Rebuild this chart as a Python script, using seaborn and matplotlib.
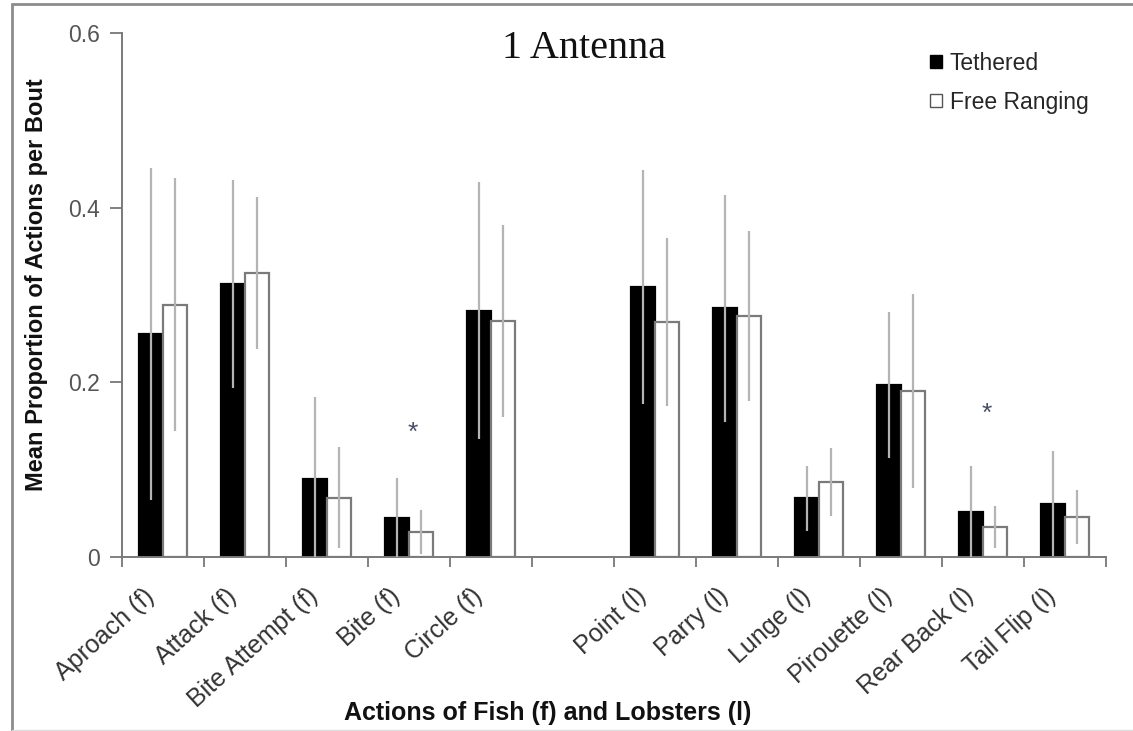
import matplotlib
matplotlib.use("Agg")
import matplotlib.pyplot as plt
import matplotlib.transforms as mtransforms
from matplotlib.lines import Line2D
from matplotlib.patches import Patch
import numpy as np
import pandas as pd
import seaborn as sns

# Behaviour categories (f = fish, l = lobster); the blank entry separates the two groups
actions = ["Aproach (f)", "Attack (f)", "Bite Attempt (f)", "Bite (f)", "Circle (f)", " ",
           "Point (l)", "Parry (l)", "Lunge (l)", "Pirouette (l)", "Rear Back (l)", "Tail Flip (l)"]
measured = [a for a in actions if a.strip()]

tethered_mean = [0.255, 0.313, 0.089, 0.045, 0.282, 0.309, 0.285, 0.067, 0.197, 0.052, 0.061]
tethered_err = [0.190, 0.119, 0.094, 0.045, 0.147, 0.134, 0.130, 0.037, 0.084, 0.052, 0.060]
free_mean = [0.289, 0.325, 0.068, 0.029, 0.270, 0.269, 0.276, 0.086, 0.190, 0.034, 0.046]
free_err = [0.145, 0.087, 0.058, 0.025, 0.110, 0.096, 0.097, 0.039, 0.111, 0.024, 0.031]

# Significant differences marked with an asterisk
significant = ["Bite (f)", "Rear Back (l)"]
significant_y = [0.142, 0.164]

conditions = ["Tethered", "Free Ranging"]

df = pd.DataFrame({
    "action": measured * 2,
    "condition": ["Tethered"] * len(measured) + ["Free Ranging"] * len(measured),
    "mean": tethered_mean + free_mean,
    "err": tethered_err + free_err,
})

sns.set_theme(style="white")
plt.rcParams["font.family"] = ["Liberation Sans", "DejaVu Sans"]

fig = plt.figure(figsize=(11.33, 7.31), dpi=100)
ax = fig.add_axes([0.1077, 0.238, 0.8683, 0.717])

sns.barplot(data=df, x="action", y="mean", hue="condition", order=actions,
            hue_order=conditions, palette={"Tethered": "black", "Free Ranging": "white"},
            width=0.58, errorbar=None, legend=False, saturation=1, ax=ax)

edge = {"Tethered": "black", "Free Ranging": "#7a7a7a"}
err_lookup = {(a, c): e for a, c, e in zip(df["action"], df["condition"], df["err"])}
for cond, container in zip(conditions, ax.containers):
    xs, ys, es = [], [], []
    for rect in container:
        rect.set_edgecolor(edge[cond])
        rect.set_linewidth(1.6)
        xc = rect.get_x() + rect.get_width() / 2
        xs.append(xc)
        ys.append(rect.get_height())
        es.append(err_lookup[(actions[int(round(xc))], cond)])
    ax.errorbar(xs, ys, yerr=es, fmt="none", ecolor="#b4b4b4", elinewidth=1.6,
                capsize=0, zorder=5)

for name, y in zip(significant, significant_y):
    ax.text(actions.index(name) + 0.05, y, "*", ha="center", va="center",
            fontsize=19, color="#4a4f66")

ax.set_ylim(0, 0.6)
ax.set_xlim(-0.5, len(actions) - 0.5)
ax.set_yticks([0, 0.2, 0.4, 0.6])
ax.set_yticklabels(["0", "0.2", "0.4", "0.6"])
ax.set_xticks(np.arange(-0.5, len(actions)), minor=True)
ax.tick_params(axis="x", which="major", length=0, pad=10, labelsize=18, labelcolor="#333333")
ax.tick_params(axis="x", which="minor", length=7, width=1.3, color="#777777", direction="out", bottom=True)
ax.tick_params(axis="y", length=9, width=1.3, color="#777777", direction="out", left=True,
               pad=7, labelsize=16.5, labelcolor="#555555")
ax.set_xticks(range(len(actions)))
ax.set_xticklabels(actions, rotation=42, ha="right", rotation_mode="anchor")
# nudge the slanted labels so they hang just left of and below each category centre
shift = mtransforms.ScaledTranslation(-20 / 100, -13 / 100, fig.dpi_scale_trans)
for lbl in ax.get_xticklabels():
    lbl.set_transform(lbl.get_transform() + shift)

for side in ["top", "right"]:
    ax.spines[side].set_visible(False)
for side in ["left", "bottom"]:
    ax.spines[side].set_color("#7a7a7a")
    ax.spines[side].set_linewidth(1.4)

ax.set_xlabel("Actions of Fish (f) and Lobsters (l)", fontsize=18, fontweight="bold", color="#111111")
ax.set_ylabel("Mean Proportion of Actions per Bout", fontsize=17, fontweight="bold", color="#111111")
ax.xaxis.set_label_coords(0.433, -0.275)
ax.yaxis.set_label_coords(-0.075, 0.52)

ax.text(0.47, 0.971, "1 Antenna", transform=ax.transAxes, ha="center", va="center",
        fontsize=29, family="Liberation Serif", color="#111111")

handles = [Patch(facecolor="black", edgecolor="black", linewidth=1.0),
           Patch(facecolor="white", edgecolor="#555555", linewidth=1.0)]
ax.legend(handles, conditions, loc="upper left", bbox_to_anchor=(0.811, 0.945),
          bbox_transform=fig.transFigure, frameon=False, fontsize=16.5,
          handlelength=0.5, handleheight=0.5, handletextpad=0.35, labelspacing=0.7,
          borderpad=0)

# thin frame round the figure
fig.add_artist(Line2D([0.0106, 1.0], [0.9945, 0.9945], color="#8c8c8c", lw=2))
fig.add_artist(Line2D([0.0106, 0.0106], [0.0, 0.9945], color="#8c8c8c", lw=2))
fig.add_artist(Line2D([0.0106, 1.0], [0.0015, 0.0015], color="#dddddd", lw=1))

fig.savefig("out.png", dpi=100)
